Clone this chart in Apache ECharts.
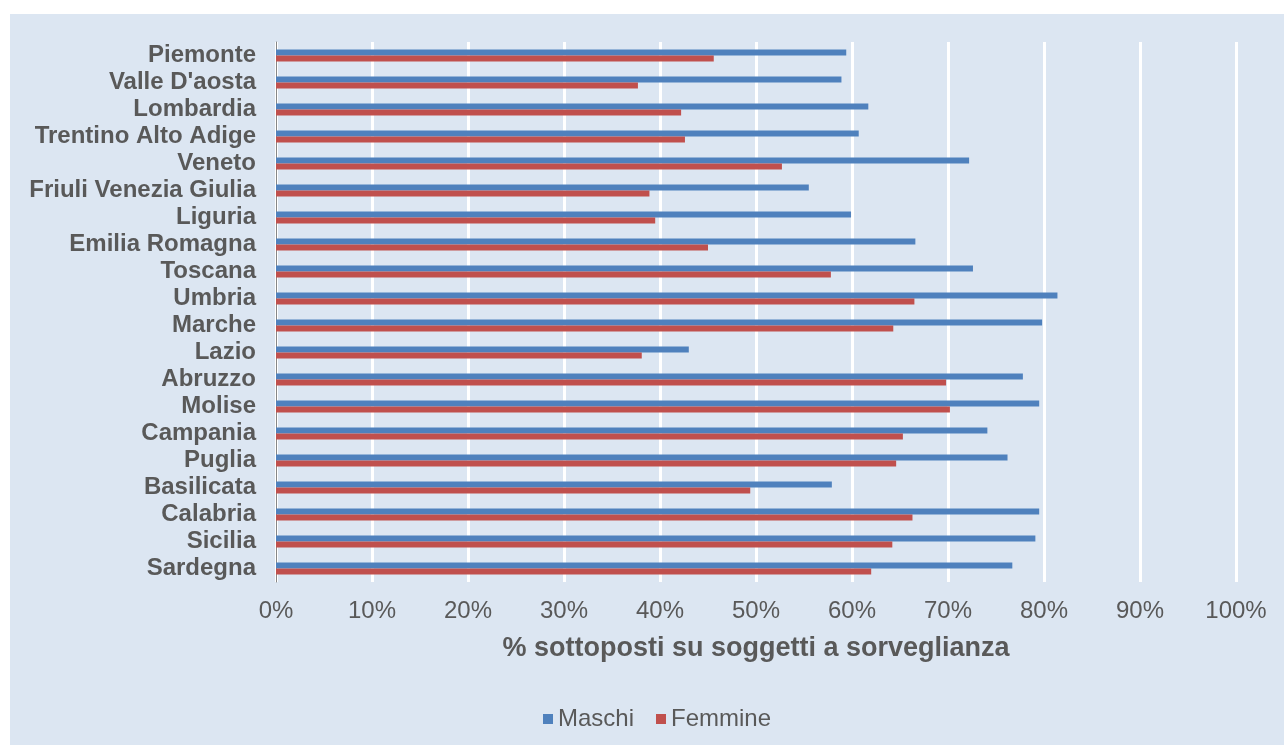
<!DOCTYPE html>
<html>
<head>
<meta charset="utf-8">
<script src="https://cdn.jsdelivr.net/npm/echarts@6/dist/echarts.min.js"></script>
<style>
  html, body { margin: 0; padding: 0; background: #ffffff; }
  #wrap { position: relative; width: 1284px; height: 745px; background: #ffffff; overflow: hidden; }
  #chart { position: absolute; left: 10px; top: 14px; width: 1274px; height: 731px; }
</style>
</head>
<body>
<div id="wrap"><div id="chart"></div></div>
<script>
const regions = ["Piemonte", "Valle D'aosta", "Lombardia", "Trentino Alto Adige", "Veneto",
  "Friuli Venezia Giulia", "Liguria", "Emilia Romagna", "Toscana", "Umbria", "Marche",
  "Lazio", "Abruzzo", "Molise", "Campania", "Puglia", "Basilicata", "Calabria", "Sicilia", "Sardegna"];
const maschi = [59.4, 58.9, 61.7, 60.7, 72.2, 55.5, 59.9, 66.6, 72.6, 81.4, 79.8,
  43.0, 77.8, 79.5, 74.1, 76.2, 57.9, 79.5, 79.1, 76.7];
const femmine = [45.6, 37.7, 42.2, 42.6, 52.7, 38.9, 39.5, 45.0, 57.8, 66.5, 64.3,
  38.1, 69.8, 70.2, 65.3, 64.6, 49.4, 66.3, 64.2, 62.0];
const seriesNames = ["Maschi", "Femmine"];
const axisTitle = "% sottoposti su soggetti a sorveglianza";

const chart = echarts.init(document.getElementById('chart'), null, { renderer: 'canvas' });
const font = "'Liberation Sans', Arial, sans-serif";
chart.setOption({
  backgroundColor: '#dce6f2',
  animation: false,
  textStyle: { fontFamily: font },
  grid: { left: 266, top: 28, width: 960, height: 540, containLabel: false },
  legend: {
    data: seriesNames,
    left: 528, top: 688,
    itemWidth: 10, itemHeight: 10, itemGap: 22,
    icon: 'rect',
    textStyle: { fontSize: 24, color: '#595959', fontFamily: font }
  },
  xAxis: {
    type: 'value', min: 0, max: 100, interval: 10,
    name: axisTitle, nameLocation: 'middle', nameGap: 53,
    nameTextStyle: { fontSize: 27, fontWeight: 'bold', color: '#595959', fontFamily: font },
    axisLine: { show: false }, axisTick: { show: false },
    axisLabel: { formatter: '{value}%', fontSize: 24, color: '#595959', margin: 17, fontFamily: font },
    splitLine: { show: true, lineStyle: { color: '#ffffff', width: 3 } }
  },
  yAxis: {
    type: 'category', data: regions, inverse: true,
    axisLine: { show: true, lineStyle: { color: '#868686', width: 1 } },
    axisTick: { show: false },
    axisLabel: { interval: 0, fontSize: 24, fontWeight: 'bold', color: '#595959', margin: 20, fontFamily: font }
  },
  series: [
    { name: seriesNames[0], type: 'bar', data: maschi, barWidth: 6, barGap: '0%',
      itemStyle: { color: '#4f81bd' } },
    { name: seriesNames[1], type: 'bar', data: femmine, barWidth: 6, barGap: '0%',
      itemStyle: { color: '#c0504d' } }
  ]
});
</script>
</body>
</html>
